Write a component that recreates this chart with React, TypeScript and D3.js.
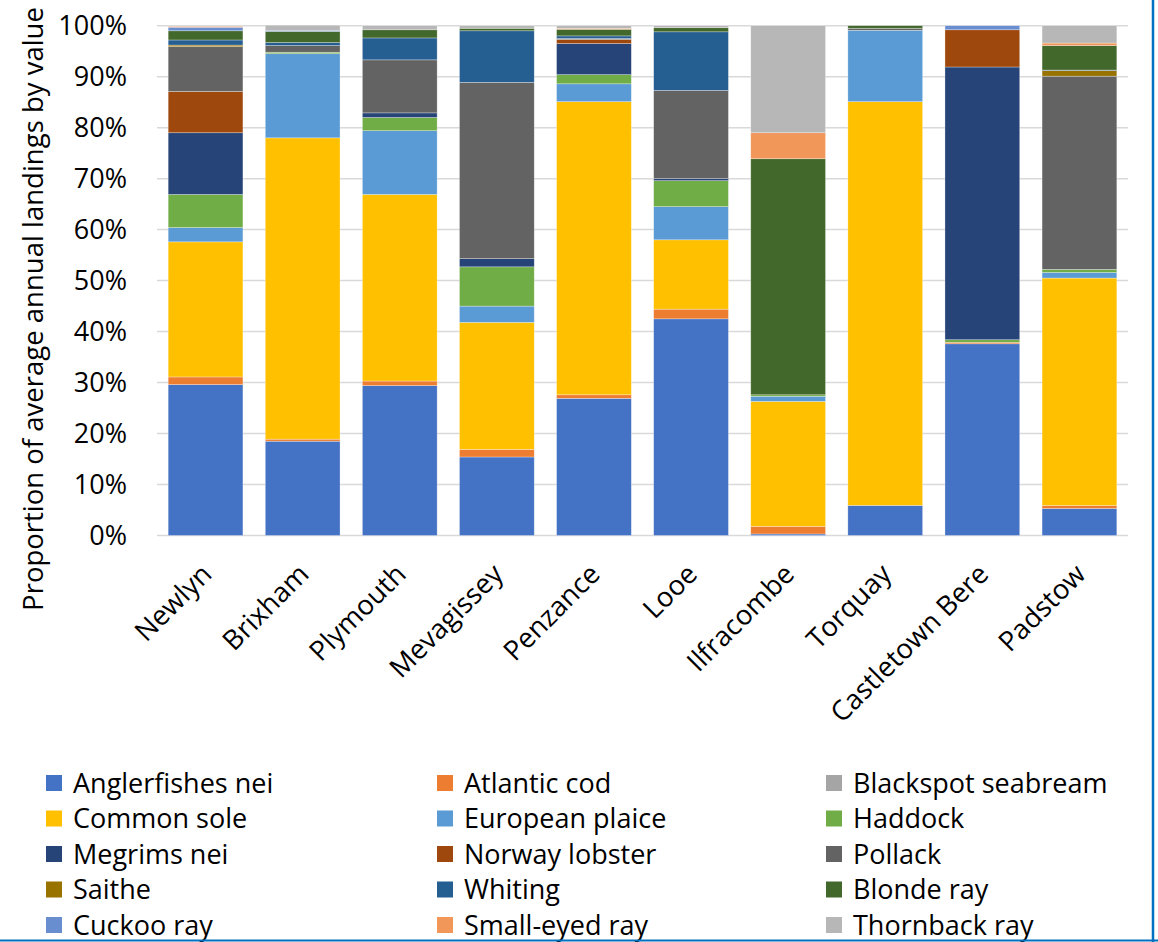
import React from "react";
import * as d3 from "d3";

const ports = ["Newlyn", "Brixham", "Plymouth", "Mevagissey", "Penzance", "Looe", "Ilfracombe", "Torquay", "Castletown Bere", "Padstow"];

const species = [
  "Anglerfishes nei", "Atlantic cod", "Blackspot seabream", "Common sole", "European plaice",
  "Haddock", "Megrims nei", "Norway lobster", "Pollack", "Saithe", "Whiting", "Blonde ray",
  "Cuckoo ray", "Small-eyed ray", "Thornback ray",
];

const colors = [
  "#4472C4", "#ED7D31", "#A5A5A5", "#FFC000", "#5B9BD5", "#70AD47", "#264478", "#9E480E",
  "#636363", "#997300", "#255E91", "#43682B", "#698ED0", "#F1975A", "#B7B7B7",
];

// Percent values per species, in port order
const anglerfishes = [29.6, 18.5, 29.4, 15.4, 26.9, 42.5, 0.3, 5.9, 37.6, 5.3];
const atlanticCod = [1.5, 0.4, 0.9, 1.5, 0.7, 1.9, 1.5, 0, 0.3, 0.6];
const blackspot = [0, 0, 0, 0, 0, 0, 0, 0, 0, 0];
const commonSole = [26.5, 59.1, 36.6, 24.9, 57.5, 13.6, 24.5, 79.2, 0, 44.6];
const plaice = [2.8, 16.5, 12.5, 3.2, 3.5, 6.5, 1.0, 14.0, 0, 1.1];
const haddock = [6.5, 0.3, 2.6, 7.7, 1.8, 5.1, 0.3, 0, 0.5, 0.6];
const megrims = [12.1, 0, 0.9, 1.6, 6.1, 0.4, 0, 0, 53.5, 0];
const norwayLobster = [8.1, 0, 0, 0, 0.8, 0, 0, 0, 7.3, 0];
const pollack = [8.8, 1.3, 10.4, 34.6, 0.2, 17.3, 0, 0.4, 0, 37.9];
const saithe = [0.3, 0, 0, 0, 0, 0, 0, 0, 0, 1.1];
const whiting = [1.0, 0.6, 4.3, 10.1, 0.5, 11.5, 0, 0, 0, 0.1];
const blondeRay = [1.8, 2.2, 1.6, 0.5, 1.3, 0.8, 46.3, 0.5, 0, 4.8];
const cuckooRay = [0.7, 0.2, 0, 0, 0, 0, 0, 0, 0.8, 0];
const smallEyedRay = [0.2, 0, 0, 0, 0.2, 0, 5.1, 0, 0, 0.5];
const thornbackRay = [0.1, 1.0, 0.8, 0.5, 0.5, 0.4, 21.0, 0, 0, 3.4];

const seriesValues = [
  anglerfishes, atlanticCod, blackspot, commonSole, plaice, haddock, megrims, norwayLobster,
  pollack, saithe, whiting, blondeRay, cuckooRay, smallEyedRay, thornbackRay,
];

const yTicks = [0, 10, 20, 30, 40, 50, 60, 70, 80, 90, 100];

const FONT = "'Open Sans', sans-serif";

export default function App() {
  const W = 1158;
  const H = 942;
  const x = d3.scaleBand<string>().domain(ports).range([157, 1128]).paddingInner(0.23).paddingOuter(0.115);
  const y = d3.scaleLinear().domain([0, 100]).range([535.5, 25.7]);

  const table = ports.map((p, i) => {
    const row: Record<string, any> = { port: p };
    species.forEach((s, j) => (row[s] = seriesValues[j][i]));
    return row;
  });
  const stacked = d3.stack<any>().keys(species)(table);

  return (
    <svg width={W} height={H} style={{ position: "absolute", left: 0, top: 0, background: "#fff" }} fontFamily={FONT}>
      <rect x={0} y={0} width={W} height={H} fill="#fff" />
      {yTicks.map((t) => (
        <g key={t}>
          <line x1={157} x2={1128} y1={y(t)} y2={y(t)} stroke="#D9D9D9" strokeWidth={1.5} />
          <text x={127} y={y(t)} dy="0.36em" textAnchor="end" fontSize={27} fill="#000">
            {t}%
          </text>
        </g>
      ))}
      {stacked.map((layer, j) => (
        <g key={species[j]} fill={colors[j]}>
          {layer.map((d, i) =>
            d[1] - d[0] > 0 ? (
              <rect
                key={i}
                x={x(ports[i])}
                width={x.bandwidth()}
                y={y(d[1])}
                height={y(d[0]) - y(d[1])}
                stroke="#ffffff"
                strokeOpacity={0.5}
                strokeWidth={0.6}
              />
            ) : null
          )}
        </g>
      ))}
      {ports.map((p) => {
        const cx = (x(p) as number) + x.bandwidth() / 2;
        return (
          <text
            key={p}
            transform={`translate(${cx + 1},${569}) rotate(-45)`}
            textAnchor="end"
            dy="0.35em"
            fontSize={27.5}
            fill="#000"
          >
            {p}
          </text>
        );
      })}
      <text transform="translate(43,309) rotate(-90)" textAnchor="middle" fontSize={27.5} fill="#000">
        Proportion of average annual landings by value
      </text>
      {species.map((s, j) => {
        const col = j % 3;
        const row = Math.floor(j / 3);
        const sx = [46, 437, 826][col];
        const sy = 775 + row * 35.5;
        return (
          <g key={s}>
            <rect x={sx} y={sy} width={16} height={16} fill={colors[j]} />
            <text x={sx + 27} y={sy + 8} dy="0.36em" fontSize={27} fill="#000">
              {s}
            </text>
          </g>
        );
      })}
      <line x1={1153} x2={1153} y1={0} y2={942} stroke="#0070C0" strokeWidth={2.5} />
      <line x1={0} x2={1158} y1={940.5} y2={940.5} stroke="#0070C0" strokeWidth={2} />
    </svg>
  );
}
